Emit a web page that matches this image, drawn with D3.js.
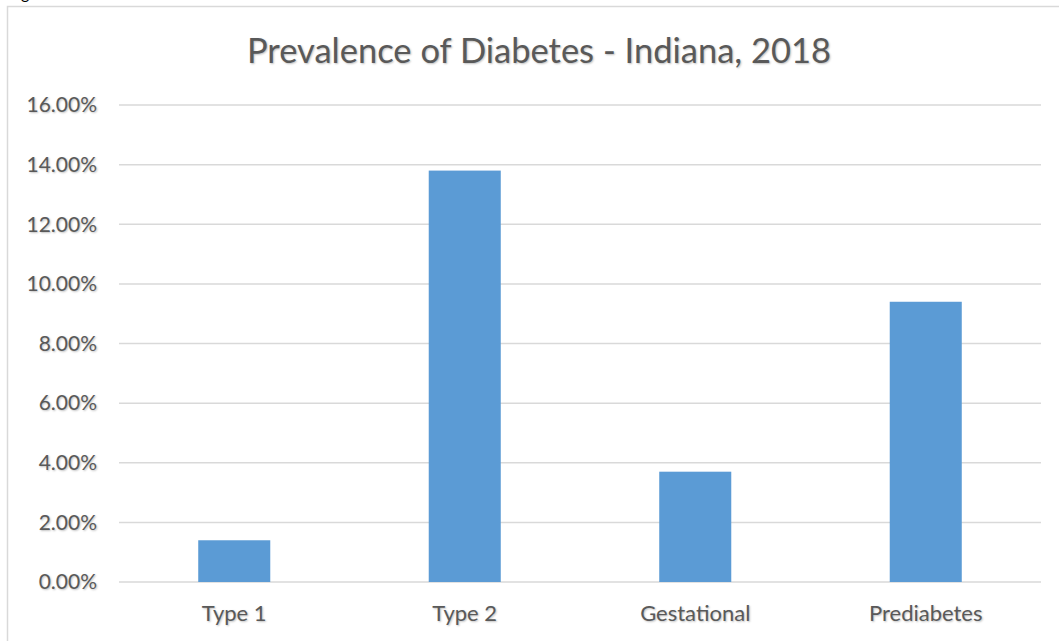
<!DOCTYPE html>
<html>
<head>
<meta charset="utf-8">
<script src="https://cdn.jsdelivr.net/npm/d3@7"></script>
<style>
  body { margin: 0; background: #fff; }
  svg text { font-family: Lato, "Open Sans", sans-serif; fill: #595959; text-shadow: 1px 1px 2px rgba(0,0,0,0.25); }
</style>
</head>
<body>
<div id="svgContainer"></div>
<script>
// chart data
var categories = ["Type 1", "Type 2", "Gestational", "Prediabetes"];
var values = [1.4, 13.8, 3.7, 9.4];
var yTicks = [0, 2, 4, 6, 8, 10, 12, 14, 16];
var title = "Prevalence of Diabetes - Indiana, 2018";

var width = 1059, height = 641;
var margin = {top: 105, right: 18, bottom: 59, left: 119};

var svg = d3.select("#svgContainer")
    .append("svg")
    .attr("width", width)
    .attr("height", height);

// outer chart border
svg.append("rect")
    .attr("x", 7.5).attr("y", 6.5)
    .attr("width", 1100).attr("height", 700)
    .style("fill", "none")
    .style("stroke", "#d9d9d9")
    .style("stroke-width", 1.5);

// clipped caption glyph at the very top
svg.append("text")
    .attr("x", 21).attr("y", -1)
    .style("font-size", "16px")
    .style("fill", "#000")
    .style("text-shadow", "none")
    .text("g");

var x = d3.scaleBand()
    .domain(categories)
    .range([margin.left, width - margin.right])
    .paddingInner(0.6875)
    .paddingOuter(0.34375);

var y = d3.scaleLinear()
    .domain([0, 16])
    .range([height - margin.bottom, margin.top]);

// gridlines
svg.append("g")
    .selectAll("line")
    .data(yTicks)
    .join("line")
    .attr("x1", margin.left)
    .attr("x2", width - margin.right)
    .attr("y1", function(d){ return y(d); })
    .attr("y2", function(d){ return y(d); })
    .style("stroke", "#d9d9d9")
    .style("stroke-width", 1.5);

// y tick labels
svg.append("g")
    .selectAll("text")
    .data(yTicks)
    .join("text")
    .attr("x", 97)
    .attr("y", function(d){ return y(d); })
    .attr("dy", "0.35em")
    .attr("text-anchor", "end")
    .style("font-size", "21px")
    .text(function(d){ return d.toFixed(2) + "%"; });

// bars
svg.append("g")
    .selectAll("rect")
    .data(values)
    .join("rect")
    .attr("x", function(d, i){ return x(categories[i]); })
    .attr("width", x.bandwidth())
    .attr("y", function(d){ return y(d); })
    .attr("height", function(d){ return y(0) - y(d); })
    .style("fill", "#5b9bd5");

// category labels
svg.append("g")
    .selectAll("text")
    .data(categories)
    .join("text")
    .attr("x", function(d){ return x(d) + x.bandwidth() / 2; })
    .attr("y", 621)
    .attr("text-anchor", "middle")
    .style("font-size", "22px")
    .text(function(d){ return d; });

// title
svg.append("text")
    .attr("x", 539)
    .attr("y", 63)
    .attr("text-anchor", "middle")
    .style("font-size", "34.5px")
    .text(title);
</script>
</body>
</html>
